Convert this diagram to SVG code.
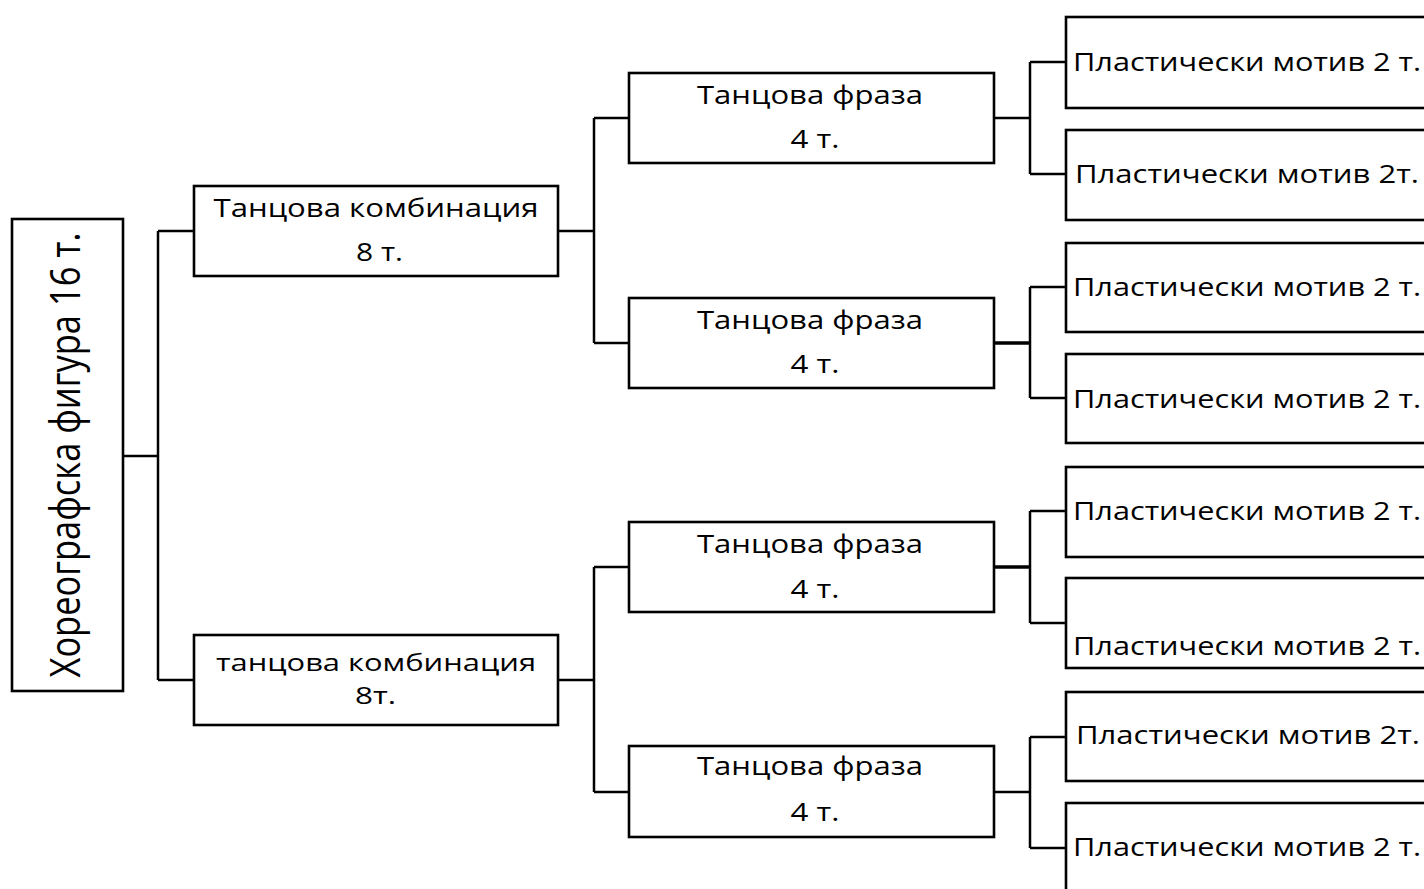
<svg xmlns="http://www.w3.org/2000/svg" width="1424" height="889" viewBox="0 0 1424 889">
<style>
.box{fill:#fff;stroke:#000;stroke-width:2.6}
.t{font-family:"Open Sans","Noto Sans","DejaVu Sans",sans-serif;font-size:25px;fill:#000}
.c{text-anchor:middle}
.conn{fill:none;stroke:#000;stroke-width:2.5}
</style>
<rect width="1424" height="889" fill="#fff"/>
<g id="connectors">
<path class="conn" d="M123 456H158M158 231V680M158 231H194M158 680H194"/>
<path class="conn" d="M558 231H594M594 118V343M594 118H629M594 343H629"/>
<path class="conn" d="M558 680H594M594 567V792M594 567H629M594 792H629"/>
<path class="conn" d="M994 118H1030M1030 62V174M1030 62H1066M1030 174H1066"/>
<path class="conn" d="M1030 287V398M1030 287H1066M1030 398H1066"/>
<path class="conn" d="M994 343H1030" style="stroke-width:3.5"/>
<path class="conn" d="M1030 511V623M1030 511H1066M1030 623H1066"/>
<path class="conn" d="M994 567H1030" style="stroke-width:3.5"/>
<path class="conn" d="M994 792H1030M1030 737V848M1030 737H1066M1030 848H1066"/>
</g>
<g id="root">
<rect class="box" x="12" y="219" width="111" height="472"/>
<text class="t c" transform="translate(80,455) scale(1.32,1) rotate(-90)" style="font-size:32px" textLength="445" lengthAdjust="spacingAndGlyphs">Хореографска фигура 16 т.</text>
</g>
<g id="combo1">
<rect class="box" x="194" y="186" width="364" height="90"/>
<text class="t c" x="376" y="217" textLength="325" lengthAdjust="spacingAndGlyphs">Танцова комбинация</text>
<text class="t c" x="379.5" y="261" textLength="47" lengthAdjust="spacingAndGlyphs">8 т.</text>
</g>
<g id="combo2">
<rect class="box" x="194" y="635" width="364" height="90"/>
<text class="t c" x="376" y="671" style="font-size:24px" textLength="320" lengthAdjust="spacingAndGlyphs">танцова комбинация</text>
<text class="t c" x="375.5" y="704" style="font-size:24px" textLength="41" lengthAdjust="spacingAndGlyphs">8т.</text>
</g>
<g id="phrase1">
<rect class="box" x="629" y="73" width="365" height="90"/>
<text class="t c" x="810" y="104" textLength="226" lengthAdjust="spacingAndGlyphs">Танцова фраза</text>
<text class="t c" x="815" y="148" textLength="49" lengthAdjust="spacingAndGlyphs">4 т.</text>
</g>
<g id="phrase2">
<rect class="box" x="629" y="298" width="365" height="90"/>
<text class="t c" x="810" y="329" textLength="226" lengthAdjust="spacingAndGlyphs">Танцова фраза</text>
<text class="t c" x="815" y="373" textLength="49" lengthAdjust="spacingAndGlyphs">4 т.</text>
</g>
<g id="phrase3">
<rect class="box" x="629" y="522" width="365" height="90"/>
<text class="t c" x="810" y="553" textLength="226" lengthAdjust="spacingAndGlyphs">Танцова фраза</text>
<text class="t c" x="815" y="598" textLength="49" lengthAdjust="spacingAndGlyphs">4 т.</text>
</g>
<g id="phrase4">
<rect class="box" x="629" y="746" width="365" height="91"/>
<text class="t c" x="810" y="775" textLength="226" lengthAdjust="spacingAndGlyphs">Танцова фраза</text>
<text class="t c" x="815" y="821" textLength="49" lengthAdjust="spacingAndGlyphs">4 т.</text>
</g>
<g id="leaf1">
<rect class="box" x="1066" y="17" width="380" height="91"/>
<text class="t" x="1073" y="71" textLength="348" lengthAdjust="spacingAndGlyphs">Пластически мотив 2 т.</text>
</g>
<g id="leaf2">
<rect class="box" x="1066" y="130" width="380" height="90"/>
<text class="t" x="1075" y="183" textLength="344" lengthAdjust="spacingAndGlyphs">Пластически мотив 2т.</text>
</g>
<g id="leaf3">
<rect class="box" x="1066" y="243" width="380" height="89"/>
<text class="t" x="1073" y="296" textLength="348" lengthAdjust="spacingAndGlyphs">Пластически мотив 2 т.</text>
</g>
<g id="leaf4">
<rect class="box" x="1066" y="354" width="380" height="89"/>
<text class="t" x="1073" y="408" textLength="348" lengthAdjust="spacingAndGlyphs">Пластически мотив 2 т.</text>
</g>
<g id="leaf5">
<rect class="box" x="1066" y="467" width="380" height="90"/>
<text class="t" x="1073" y="520" textLength="348" lengthAdjust="spacingAndGlyphs">Пластически мотив 2 т.</text>
</g>
<g id="leaf6">
<rect class="box" x="1066" y="578" width="380" height="90"/>
<text class="t" x="1073" y="655" textLength="348" lengthAdjust="spacingAndGlyphs">Пластически мотив 2 т.</text>
</g>
<g id="leaf7">
<rect class="box" x="1066" y="692" width="380" height="89"/>
<text class="t" x="1076" y="744" textLength="344" lengthAdjust="spacingAndGlyphs">Пластически мотив 2т.</text>
</g>
<g id="leaf8">
<rect class="box" x="1066" y="803" width="380" height="100"/>
<text class="t" x="1073" y="856" textLength="348" lengthAdjust="spacingAndGlyphs">Пластически мотив 2 т.</text>
</g>
</svg>
